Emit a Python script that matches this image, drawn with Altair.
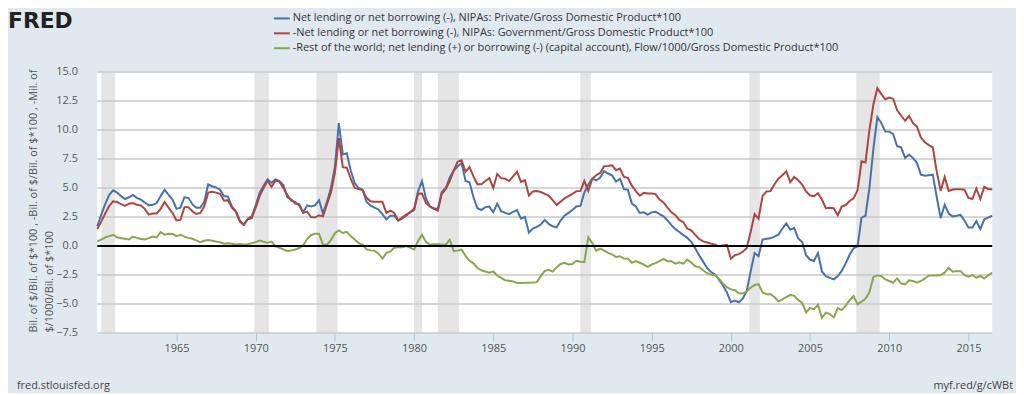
import altair as alt
import pandas as pd

# ---------------- data (quarterly, 1960Q1 .. 2016Q3), percent of GDP ----------------
start_year = 1960

private = [
    1.7, 2.7, 3.6, 4.4,      4.8, 4.6, 4.3, 4.05,     4.2, 4.4, 4.15, 4.0,     3.75, 3.5, 3.55, 3.7,
    4.3, 4.85, 4.4, 4.0,     3.2, 3.3, 4.2, 4.15,     3.6, 3.3, 3.3, 3.8,      5.3, 5.15, 5.05, 4.85,
    4.3, 4.25, 3.4, 3.0,     2.2, 1.85, 2.35, 2.55,   3.5, 4.6, 5.2, 5.75,     5.45, 5.75, 5.6, 5.25,
    4.2, 4.0, 3.65, 3.6,     2.9, 3.5, 3.4, 3.5,      3.95, 2.8, 3.8, 5.0,     6.8, 10.6, 7.9, 8.0,
    6.5, 5.45, 5.0, 4.85,    3.8, 3.5, 3.3, 3.15,     2.75, 2.3, 2.6, 2.6,     2.2, 2.35, 2.6, 2.9,
    3.2, 4.7, 5.6, 4.1,      3.4, 3.25, 3.2, 4.65,    5.0, 5.9, 6.5, 6.85,     7.15, 5.6, 5.5, 4.2,
    3.25, 3.1, 3.35, 3.4,    2.9, 3.65, 3.0, 2.85,    2.75, 2.95, 3.1, 2.35,   2.5, 1.15, 1.5, 1.65,
    1.85, 2.25, 1.9, 1.7,    1.6, 2.2, 2.6, 2.85,     3.1, 3.4, 3.45, 4.6,     5.3, 5.8, 5.65, 5.9,
    6.45, 6.25, 6.1, 5.55,   5.8, 4.9, 4.85, 3.65,    3.4, 2.85, 2.9, 2.7,     2.9, 2.95, 2.75, 2.55,
    2.2, 1.8, 1.45, 1.2,     0.95, 0.7, 0.35, -0.2,   -0.8, -1.35, -1.9, -2.25, -2.45, -2.9, -3.4, -4.0,
    -4.85, -4.7, -4.85, -4.55, -3.9, -2.2, -0.6, -0.88, 0.55, 0.62, 0.66, 0.8,  0.97, 1.5, 1.95, 1.42,
    1.55, 0.65, 0.35, -0.8,  -1.17, -1.3, -0.6, -2.2, -2.6, -2.75, -2.88, -2.6, -2.15, -1.5, -0.75, -0.2,
    -0.03, 2.45, 2.6, 5.0,   8.4, 11.1, 10.6, 9.86,   9.86, 9.65, 8.6, 8.5,    7.6, 7.86, 7.6, 7.15,
    6.15, 6.05, 6.1, 6.15,   4.2, 2.4, 3.55, 2.8,     2.55, 2.6, 2.68, 2.2,    1.6, 1.6, 2.15, 1.45,
    2.3, 2.45, 2.62,
]

government = [
    1.45, 2.1, 2.8, 3.45,    3.85, 3.8, 3.6, 3.45,    3.65, 3.7, 3.55, 3.5,    3.2, 2.7, 2.8, 2.8,
    3.2, 3.8, 3.3, 2.85,     2.2, 2.25, 3.35, 3.35,   3.0, 2.76, 2.85, 3.4,    4.6, 4.67, 4.6, 4.5,
    3.9, 3.95, 3.3, 2.95,    2.1, 1.8, 2.3, 2.4,      3.3, 4.3, 5.0, 5.6,      5.1, 5.65, 5.55, 5.0,
    4.4, 3.9, 3.78, 3.5,     2.85, 2.96, 2.5, 2.45,   2.65, 2.55, 3.6, 4.6,    6.3, 9.3, 6.8, 6.75,
    5.8, 5.0, 4.9, 4.82,     4.15, 3.85, 3.82, 3.82,  3.82, 2.85, 3.05, 2.85,  2.2, 2.45, 2.7, 2.9,
    3.1, 4.5, 4.53, 3.7,     3.4, 3.2, 3.05, 4.5,     4.9, 5.6, 6.5, 7.25,     7.38, 6.4, 6.8, 6.0,
    5.33, 5.33, 5.6, 5.85,   5.0, 6.2, 5.85, 5.8,     5.6, 6.0, 6.4, 5.53,     5.67, 4.35, 4.7, 4.73,
    4.65, 4.5, 4.35, 3.96,   3.55, 3.82, 4.1, 4.3,    4.5, 4.73, 4.73, 5.6,    4.75, 5.8, 6.1, 6.3,
    6.87, 6.9, 6.95, 6.53,   6.67, 5.96, 5.88, 5.2,   4.73, 4.33, 4.58, 4.53,  4.53, 4.47, 4.0, 3.75,
    3.3, 2.9, 2.65, 2.25,    2.05, 1.5, 1.35, 0.95,   0.6, 0.4, 0.3, 0.2,      0.1, -0.03, 0.05, 0.1,
    -1.1, -0.8, -0.7, -0.5,  -0.2, 1.2, 2.75, 2.35,   4.3, 4.7, 4.73, 5.3,     5.8, 6.1, 6.44, 5.5,
    5.95, 5.67, 5.3, 4.7,    4.35, 4.3, 4.55, 4.0,    3.25, 3.3, 3.25, 2.65,   3.4, 3.53, 3.88, 4.1,
    4.8, 7.3, 7.2, 10.0,     12.2, 13.6, 13.1, 12.65, 12.8, 12.7, 11.7, 11.25, 10.8, 11.2, 10.6, 10.3,
    9.35, 8.95, 8.7, 8.5,    6.4, 4.75, 5.95, 4.75,   4.87, 4.9, 4.9, 4.85,    4.15, 4.05, 4.96, 4.05,
    5.1, 4.9, 4.9,
]

rest_world = [
    0.4, 0.55, 0.74, 0.85,   0.97, 0.75, 0.66, 0.62,  0.56, 0.8, 0.7, 0.6,     0.56, 0.68, 0.82, 0.74,
    1.2, 0.98, 1.05, 1.03,   0.85, 0.97, 0.8, 0.7,    0.62, 0.48, 0.33, 0.45,  0.52, 0.45, 0.38, 0.32,
    0.2, 0.24, 0.2, 0.13,    0.16, 0.12, 0.16, 0.23,  0.33, 0.46, 0.36, 0.27,  0.38, -0.02, -0.15, -0.3,
    -0.45, -0.38, -0.3, -0.18, 0.05, 0.6, 0.95, 1.05, 1.05, 0.1, 0.1, 0.5,     1.1, 1.34, 1.12, 1.22,
    0.85, 0.55, 0.25, 0.12,  -0.3, -0.38, -0.4, -0.65, -1.09, -0.62, -0.47, -0.15, -0.12, -0.12, 0.0, -0.15,
    -0.3, 0.4, 0.97, 0.35,   0.1, 0.15, 0.15, 0.11,   0.11, 0.54, -0.45, -0.4, -0.32, -0.85, -1.28, -1.5,
    -1.9, -2.1, -2.2, -2.3,  -2.2, -2.55, -2.75, -2.95, -3.0, -3.05, -3.2, -3.2, -3.17, -3.17, -3.15, -3.12,
    -2.6, -2.15, -2.05, -2.2, -1.85, -1.55, -1.45, -1.6, -1.55, -1.28, -1.36, -1.4, 0.74, 0.25, -0.4, -0.23,
    -0.4, -0.6, -0.72, -0.95, -0.88, -1.08, -1.09, -1.45, -1.31, -1.45, -1.6, -1.8, -1.6, -1.48, -1.3, -1.12,
    -1.31, -1.31, -1.52, -1.4, -1.53, -1.18, -1.42, -1.75, -1.82, -2.1, -2.35, -2.47, -2.52, -2.82, -3.25, -3.55,
    -3.74, -3.82, -4.08, -4.1, -3.93, -3.58, -3.37, -3.3, -4.0, -4.16, -4.16, -4.4, -4.79, -4.6, -4.4, -4.22,
    -4.3, -4.65, -4.9, -5.73, -5.36, -5.45, -5.07, -6.2, -5.75, -5.87, -6.16, -5.36, -5.53, -5.15, -4.68, -4.31,
    -5.02, -4.8, -4.55, -4.0, -2.68, -2.54, -2.6, -2.88, -3.02, -3.17, -2.8, -3.22, -3.31, -2.97, -3.02, -3.17,
    -3.02, -2.8, -2.55, -2.54, -2.54, -2.5, -2.3, -1.88, -2.22, -2.17, -2.17, -2.5, -2.65, -2.51, -2.74, -2.6,
    -2.8, -2.51, -2.31,
]

# NBER recessions (decimal years)
rec_start = [1960.25, 1969.917, 1973.833, 1980.0, 1981.5, 1990.5, 2001.167, 2007.917]
rec_end = [1961.125, 1970.833, 1975.167, 1980.5, 1982.833, 1991.167, 2001.833, 2009.4]

series_names = [
    "Net lending or net borrowing (-), NIPAs: Private/Gross Domestic Product*100",
    "-Net lending or net borrowing (-), NIPAs: Government/Gross Domestic Product*100",
    "-Rest of the world; net lending (+) or borrowing (-) (capital account), Flow/1000/Gross Domestic Product*100",
]
series_colors = ["#4572a7", "#aa4643", "#89a54e"]

x_ticks = [1965, 1970, 1975, 1980, 1985, 1990, 1995, 2000, 2005, 2010, 2015]
y_ticks = [-7.5, -5.0, -2.5, 0.0, 2.5, 5.0, 7.5, 10.0, 12.5, 15.0]
zero_level = [0.0]

# ---------------- build tables ----------------
quarters = [start_year + i / 4 for i in range(len(private))]
rows = []
for name, vals in zip(series_names, [private, government, rest_world]):
    for t, v in zip(quarters, vals):
        rows.append({"t": t, "value": v, "series": name})
df = pd.DataFrame(rows)
rec_df = pd.DataFrame({"start": rec_start, "end": rec_end})
grid_df = pd.DataFrame({"level": y_ticks})
zero_df = pd.DataFrame({"z": zero_level})
one = pd.DataFrame({"a": [0]})

FONT = "Open Sans"
W, H = 902, 263

xscale = alt.Scale(domain=[1960.0, 2016.5], nice=False, zero=False)
yscale = alt.Scale(domain=[-7.5, 15.0], nice=False, zero=False)

x_axis = alt.Axis(values=x_ticks, format="d", grid=False, domain=False, ticks=True,
                  tickSize=8, tickColor="#b0c0d4", tickWidth=1, labelPadding=2, labelFont=FONT,
                  labelFontSize=11, labelColor="#555555", labelOverlap=False, title=None)
y_axis = alt.Axis(values=y_ticks, format=".1f", grid=False, ticks=False, domain=False,
                  labelPadding=20, labelFont=FONT, labelFontSize=11, labelColor="#555555",
                  labelOverlap=False,
                  title=["Bil. of $/Bil. of $*100 , -Bil. of $/Bil. of $*100 , -Mil. of",
                         "$/1000/Bil. of $*100"],
                  titleFont=FONT, titleFontSize=11, titleFontWeight="normal",
                  titleColor="#555555", titleAngle=-90, titleAlign="left",
                  titleBaseline="top", titleX=-70, titleY=262, titleLineHeight=16)

recess = alt.Chart(rec_df).mark_rect(color="#cccccc", opacity=0.5).encode(
    x=alt.X("start:Q", scale=xscale, axis=x_axis),
    x2="end:Q",
)

grid = alt.Chart(grid_df).mark_rule(stroke="#c8c8c8", strokeWidth=1.5, opacity=1).encode(
    x=alt.value(0), x2=alt.value(W),
    y=alt.Y("level:Q", scale=yscale, axis=y_axis))

lines = alt.Chart(df).mark_line(strokeWidth=2).encode(
    x=alt.X("t:Q", scale=xscale, axis=x_axis),
    y=alt.Y("value:Q", scale=yscale, axis=y_axis),
    color=alt.Color("series:N", scale=alt.Scale(domain=series_names, range=series_colors),
                    legend=None),
    order=alt.Order("t:Q"),
)

zero = alt.Chart(zero_df).mark_rule(color="black", strokeWidth=2).encode(
    y=alt.Y("z:Q", scale=yscale, axis=y_axis))

layers = [recess, grid, lines, zero]

# legend (manual, at top)
leg_y = [-54, -39, -24]
for name, col, ly in zip(series_names, series_colors, leg_y):
    layers.append(alt.Chart(one).mark_rule(color=col, strokeWidth=2).encode(
        x=alt.value(178), x2=alt.value(194), y=alt.value(ly)))
    layers.append(alt.Chart(one).mark_text(align="left", baseline="middle", font=FONT,
                                           fontSize=11, color="#333333").encode(
        x=alt.value(197), y=alt.value(ly), text=alt.value(name)))

# logo and footer
layers.append(alt.Chart(one).mark_text(align="left", baseline="alphabetic", font="DejaVu Sans",
                                       fontSize=22, fontWeight="bold", color="#222222").encode(
    x=alt.value(-90), y=alt.value(-44), text=alt.value("FRED")))
layers.append(alt.Chart(one).mark_text(align="left", baseline="middle", font=FONT,
                                       fontSize=11, color="#444444").encode(
    x=alt.value(-81), y=alt.value(316), text=alt.value("fred.stlouisfed.org")))
layers.append(alt.Chart(one).mark_text(align="right", baseline="middle", font=FONT,
                                       fontSize=11, color="#444444").encode(
    x=alt.value(923), y=alt.value(316), text=alt.value("myf.red/g/cWBt")))

chart = alt.layer(*layers).properties(
    width=W, height=H,
    autosize=alt.AutoSizeParams(type="none"),
    padding={"left": 90, "top": 63, "right": 24, "bottom": 59},
).configure(background="#e1e9f0").configure_view(fill="white", strokeWidth=0)

chart.save("out.html", embed_options={"renderer": "svg", "actions": False})
